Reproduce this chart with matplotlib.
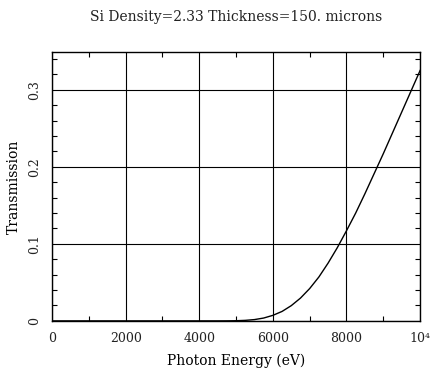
import matplotlib
matplotlib.use("Agg")
import matplotlib.pyplot as plt
from matplotlib.ticker import MultipleLocator, FixedLocator

# photon energy (eV) and transmission
energy = [0, 1000, 2000, 3000, 4000, 4500, 4750, 5000, 5250, 5500, 5750, 6000,
          6250, 6500, 6750, 7000, 7250, 7500, 7750, 8000, 8250, 8500, 8750,
          9000, 9250, 9500, 9750, 10000]
trans = [0, 0, 0, 0, 0, 0.00001, 0.00006, 0.00023, 0.0007, 0.0017, 0.0037, 0.0072,
         0.0123, 0.0198, 0.0296, 0.042, 0.057, 0.075, 0.095, 0.117, 0.140, 0.165, 0.191,
         0.217, 0.244, 0.271, 0.298, 0.325]

xticks = [0, 2000, 4000, 6000, 8000, 10000]
xlabels = ["0", "2000", "4000", "6000", "8000", "10\u2074"]
yticks = [0, 0.1, 0.2, 0.3]
ylabels = ["0", "0.1", "0.2", "0.3"]

plt.rcParams['font.family'] = ['DejaVu Serif', 'DejaVu Sans']
plt.rcParams['font.size'] = 9
plt.rcParams['text.color'] = '#222222'

fig = plt.figure(figsize=(4.3, 3.74), dpi=100)
ax = fig.add_axes([0.121, 0.142, 0.856, 0.719])

ax.plot(energy, trans, color="black", lw=1.0)

ax.set_xlim(0, 10000)
ax.set_ylim(0, 0.349)
ax.xaxis.set_major_locator(FixedLocator(xticks))
ax.set_xticklabels(xlabels)
ax.yaxis.set_major_locator(FixedLocator(yticks))
ax.set_yticklabels(ylabels, rotation=90, va="center")
ax.xaxis.set_minor_locator(MultipleLocator(1000))
ax.yaxis.set_minor_locator(MultipleLocator(0.02))
ax.grid(True, which="major", color="black", lw=0.8)
ax.tick_params(which="both", direction="in", top=True, right=True, color="black",
               labelcolor="#222222")
ax.tick_params(which="major", length=0, pad=8)
ax.tick_params(which="minor", length=3.5, width=0.8)
for s in ax.spines.values():
    s.set_linewidth(1.0)

ax.set_xlabel("Photon Energy (eV)", fontsize=10, labelpad=6)
ax.set_ylabel("Transmission", fontsize=10, labelpad=5)
ax.set_title("Si Density=2.33 Thickness=150. microns", fontsize=10, pad=22)

fig.savefig("out.png", dpi=100)
